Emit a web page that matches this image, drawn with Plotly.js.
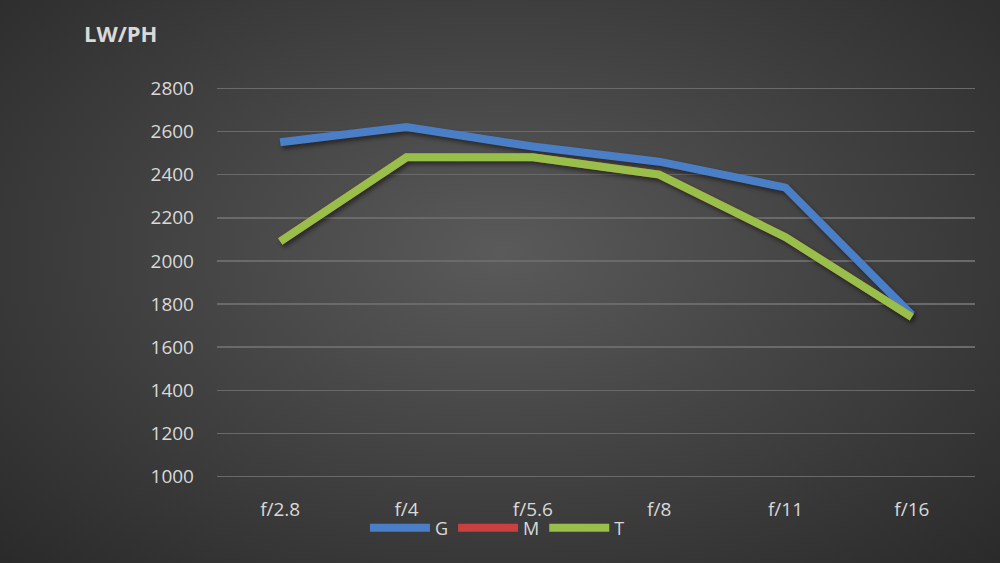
<!DOCTYPE html>
<html>
<head>
<meta charset="utf-8">
<script src="https://cdn.plot.ly/plotly-3.0.1.min.js"></script>
<style>
html,body{margin:0;padding:0;}
body{width:1000px;height:563px;background:radial-gradient(ellipse at 50% 45%, #5a5a5a 0%, #444444 45%, #2a2a2a 100%);}
#chart{width:1000px;height:563px;}
#chart .scatterlayer{filter:drop-shadow(2px 3px 2px rgba(0,0,0,0.45));}
</style>
</head>
<body>
<div id="chart"></div>
<script>
const categories = ["f/2.8","f/4","f/5.6","f/8","f/11","f/16"];
const seriesG = [2550, 2620, 2530, 2460, 2340, 1750];
const seriesM = [2090, 2480, 2480, 2400, 2110, 1740];
const seriesT = [2090, 2480, 2480, 2400, 2110, 1740];
const yTicks = [1000,1200,1400,1600,1800,2000,2200,2400,2600,2800];

const mk = (name, y, color) => ({
  type: 'scatter', mode: 'lines', name: name, x: categories, y: y,
  line: {color: color, width: 8, shape: 'linear'}
});
const data = [
  mk('G', seriesG, '#4a7fc8'),
  mk('M', seriesM, '#c9403f'),
  mk('T', seriesT, '#98bf4a')
];
const layout = {
  width: 1000, height: 563,
  paper_bgcolor: 'rgba(0,0,0,0)', plot_bgcolor: 'rgba(0,0,0,0)',
  margin: {l: 217, r: 25, t: 83.7, b: 81.7},
  font: {family: 'Open Sans, Liberation Sans, sans-serif', color: '#d9d9d9', size: 19},
  showlegend: true,
  legend: {orientation: 'h', x: 0.37, xanchor: 'center', y: -0.072, yanchor: 'top',
           font: {size: 18, color: '#d9d9d9'}, itemwidth: 60, tracegroupgap: 0,
           bgcolor: 'rgba(0,0,0,0)'},
  xaxis: {type: 'category', range: [-0.5, 5.5], showgrid: false, zeroline: false, showline: false,
          ticks: '', ticklabelstandoff: 15, tickfont: {size: 19, color: '#d9d9d9'}},
  yaxis: {range: [980, 2820], tickvals: yTicks, showgrid: true, gridcolor: '#6a6a6a',
          gridwidth: 1.5, zeroline: false, showline: false, ticks: '',
          ticklabelstandoff: 22, tickfont: {size: 19, color: '#d9d9d9'}},
  annotations: [{text: '<b>LW/PH</b>', xref: 'paper', yref: 'paper', x: -0.178, y: 1.128,
                 xanchor: 'left', yanchor: 'middle', showarrow: false,
                 font: {size: 22, color: '#d9d9d9'}}]
};
Plotly.newPlot('chart', data, layout, {displayModeBar: false, staticPlot: true});
</script>
</body>
</html>
